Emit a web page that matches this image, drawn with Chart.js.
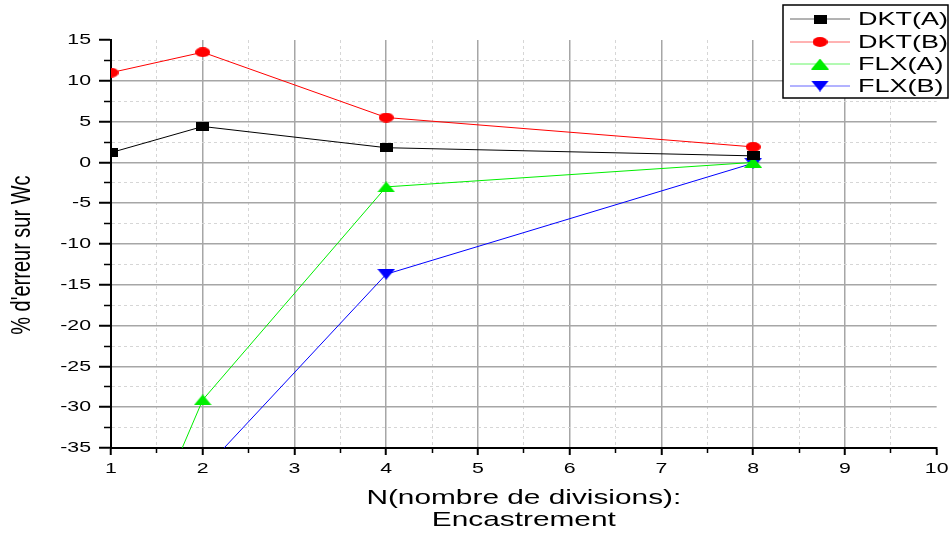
<!DOCTYPE html>
<html>
<head>
<meta charset="utf-8">
<script src="https://cdn.jsdelivr.net/npm/chart.js@4/dist/chart.umd.min.js"></script>
<style>
  body { margin: 0; background: #fff; }
  #wrap { width: 950px; height: 538px; }
</style>
</head>
<body>
<div id="wrap"><canvas id="myChart" width="950" height="538"></canvas></div>
<script>
// erreur sur Wc, encastrement

let nValues = [1, 2, 4, 8];
let dktA = [1.2, 4.4, 1.8, 0.8];
let dktB = [11.0, 13.5, 5.5, 1.9];
let flxA = [-55.4, -29.1, -3.0, 0.0];
let flxB = [-52.0, -37.8, -13.7, -0.1];

let seriesNames = ["DKT(A)", "DKT(B)", "FLX(A)", "FLX(B)"];
let seriesColors = ["#000000", "#ff0000", "#00ee00", "#0000ff"];

let xTitle = ["N(nombre de divisions):", "Encastrement"];
let yTitle = "% d'erreur sur Wc    ";

const FONT = "'Liberation Sans', Arial, sans-serif";
const STRETCH = 1.42;

function toPoints(ys) {
    let data = [];
    for (i = 0; i < nValues.length; i++) {
        data.push({ x: nValues[i], y: ys[i] });
    }
    return data;
}

// small marker images, a bit wider than tall like on the original
function marker(kind, color) {
    let c = document.createElement('canvas');
    let w = kind == 'rect' ? 13 : (kind == 'circle' ? 15 : 18);
    let h = kind == 'rect' ? 9 : (kind == 'circle' ? 10 : 11);
    c.width = w;
    c.height = h;
    let g = c.getContext('2d');
    g.fillStyle = color;
    g.beginPath();
    if (kind == 'rect') {
        g.rect(0, 0, w, h);
    } else if (kind == 'circle') {
        g.ellipse(w / 2, h / 2, w / 2, h / 2, 0, 0, Math.PI * 2);
    } else if (kind == 'up') {
        g.moveTo(w / 2, 0);
        g.lineTo(w, h);
        g.lineTo(0, h);
    } else {
        g.moveTo(0, 0);
        g.lineTo(w, 0);
        g.lineTo(w / 2, h);
    }
    g.closePath();
    g.fill();
    return c;
}

let markers = [
    marker('rect', seriesColors[0]),
    marker('circle', seriesColors[1]),
    marker('up', seriesColors[2]),
    marker('down', seriesColors[3])
];
let allSeries = [dktA, dktB, flxA, flxB];

let canvas = document.getElementById('myChart');
let ctx = canvas.getContext('2d');

// the original text is drawn wider than normal (horizontally), stretch it the same way
const plainFillText = ctx.fillText;
ctx.fillText = function (text, x, y, maxWidth) {
    let m = this.getTransform();
    this.save();
    this.translate(x, y);
    if (m.b !== 0 || m.c !== 0) {
        // rotated title: screen x is the local y direction
        this.scale(1, STRETCH);
    } else {
        this.scale(STRETCH, 1);
    }
    plainFillText.call(this, text, 0, 0);
    this.restore();
};

function isMajorX(v) { return Number.isInteger(v); }
function isMajorY(v) { return v % 5 === 0; }

// boxed legend in the top right corner
const boxLegend = {
    id: 'boxLegend',
    afterDraw(chart) {
        let c = chart.ctx;
        c.save();
        c.fillStyle = '#ffffff';
        c.fillRect(783, 5, 165, 93);
        c.strokeStyle = '#000000';
        c.lineWidth = 1.5;
        c.strokeRect(783, 5, 165, 93);
        let rows = [19, 42, 64, 86];
        for (i = 0; i < seriesNames.length; i++) {
            c.strokeStyle = seriesColors[i];
            c.globalAlpha = 0.6;
            c.lineWidth = 1;
            c.beginPath();
            c.moveTo(790, rows[i]);
            c.lineTo(850, rows[i]);
            c.stroke();
            c.globalAlpha = 1;
            let m = markers[i];
            c.drawImage(m, 820 - m.width / 2, rows[i] - m.height / 2);
            c.fillStyle = '#000000';
            c.font = '19px ' + FONT;
            c.textAlign = 'left';
            c.textBaseline = 'middle';
            c.fillText(seriesNames[i], 858, rows[i] + 1);
        }
        c.restore();
    }
};

let datasets = [];
for (let k = 0; k < allSeries.length; k++) {
    datasets.push({
        label: seriesNames[k],
        data: toPoints(allSeries[k]),
        showLine: true,
        borderColor: seriesColors[k],
        backgroundColor: seriesColors[k],
        borderWidth: 1,
        pointStyle: markers[k],
        pointRadius: 6,
        pointHoverRadius: 6
    });
}

new Chart(ctx, {
    type: 'scatter',
    data: { datasets: datasets },
    plugins: [boxLegend],
    options: {
        responsive: false,
        animation: false,
        layout: { padding: { top: 40, right: 13, left: 0, bottom: 0 } },
        plugins: {
            legend: { display: false },
            tooltip: { enabled: false }
        },
        scales: {
            x: {
                type: 'linear',
                min: 1,
                max: 10,
                afterFit: function (scale) { scale.height = 90; },
                ticks: {
                    stepSize: 0.5,
                    autoSkip: false,
                    maxRotation: 0,
                    padding: 5,
                    color: '#000000',
                    font: { family: FONT, size: 15 },
                    callback: function (v) { return isMajorX(v) ? String(v) : ''; }
                },
                grid: {
                    color: function (c) {
                        if (!c.tick) return '#000';
                        let v = c.tick.value;
                        if (v === 1 || v === 10) return 'rgba(0,0,0,0)';
                        return isMajorX(v) ? '#a6a6a6' : '#d6d6d6';
                    },
                    lineWidth: function (c) { return c.tick && isMajorX(c.tick.value) ? 1.5 : 1; },
                    tickColor: '#000000',
                    tickLength: 7,
                    tickWidth: function (c) { return c.tick && isMajorX(c.tick.value) ? 2 : 1.5; },
                    tickBorderDash: function (c) { return c.tick && isMajorX(c.tick.value) ? [] : [4, 100]; }
                },
                border: {
                    color: '#000000',
                    width: 2,
                    dash: function (c) { return c.tick && !isMajorX(c.tick.value) ? [3, 3] : []; }
                },
                title: {
                    display: true,
                    text: xTitle,
                    color: '#000000',
                    font: { family: FONT, size: 21, lineHeight: 1.05 },
                    padding: { top: 0, bottom: 7 }
                }
            },
            y: {
                min: -35,
                max: 15,
                afterFit: function (scale) { scale.width = 111; },
                ticks: {
                    stepSize: 2.5,
                    autoSkip: false,
                    padding: 8,
                    color: '#000000',
                    font: { family: FONT, size: 15 },
                    callback: function (v) { return isMajorY(v) ? String(v) : ''; }
                },
                grid: {
                    color: function (c) {
                        if (!c.tick) return '#000';
                        let v = c.tick.value;
                        if (v === 15 || v === -35) return 'rgba(0,0,0,0)';
                        return isMajorY(v) ? '#a6a6a6' : '#d6d6d6';
                    },
                    lineWidth: function (c) { return c.tick && isMajorY(c.tick.value) ? 1.5 : 1; },
                    tickColor: '#000000',
                    tickLength: 12,
                    tickWidth: function (c) { return c.tick && isMajorY(c.tick.value) ? 2 : 1.5; },
                    tickBorderDash: function (c) { return c.tick && isMajorY(c.tick.value) ? [] : [0, 5, 7, 100]; }
                },
                border: {
                    color: '#000000',
                    width: 2,
                    dash: function (c) { return c.tick && !isMajorY(c.tick.value) ? [3, 3] : []; }
                },
                title: {
                    display: true,
                    text: yTitle,
                    color: '#000000',
                    font: { family: FONT, size: 20 },
                    padding: { top: 10, bottom: 0 }
                }
            }
        }
    }
});
</script>
</body>
</html>
